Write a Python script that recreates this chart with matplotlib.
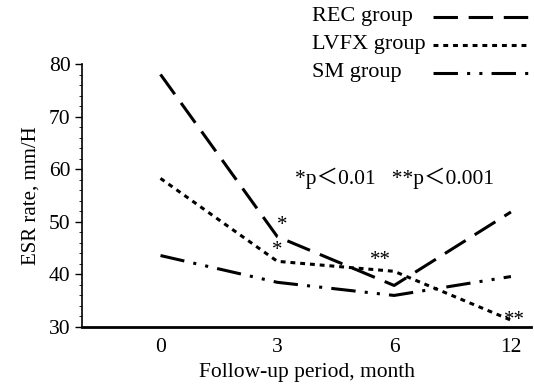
import matplotlib.pyplot as plt
from matplotlib.lines import Line2D
from matplotlib.ticker import MultipleLocator

months = ['0', '3', '6', '12']
groups = ['REC group', 'LVFX group', 'SM group']
rec = [78.1, 47.2, 37.9, 51.9]
lvfx = [58.3, 42.5, 40.6, 31.3]
sm = [43.6, 38.5, 36.0, 39.6]

plt.rcParams['font.family'] = ['Liberation Serif', 'Noto Sans CJK JP']

fig = plt.figure(figsize=(5.34, 3.86), dpi=100)
ax = fig.add_axes([0.154, 0.153, 0.84, 0.68])

styles = [(0, (8, 3.5)), (0, (1.6, 1.6)), (0, (8, 3, 1, 3, 1, 3))]
x = range(len(months))
for vals, ls in zip([rec, lvfx, sm], styles):
    ax.plot(x, vals, color='black', lw=2.2, ls=ls)

# significance marks
ax.text(1.04, rec[1] + 0.4, '*', fontsize=15, ha='center', va='bottom')
ax.text(1.0, lvfx[1] + 0.3, '*', fontsize=15, ha='center', va='bottom')
ax.text(1.88, lvfx[2] + 0.3, '**', fontsize=15, ha='center', va='bottom')
ax.text(3.03, lvfx[3] - 1.9, '**', fontsize=15, ha='center', va='bottom')
ax.text(1.15, 58.3, '*p\uff1c0.01   **p\uff1c0.001', fontsize=15.5, va='center')

ax.set_xlim(-0.67, 3.17)
ax.set_ylim(30, 80)
ax.set_xticks(list(x))
ax.set_xticklabels(months)
ax.yaxis.set_major_locator(MultipleLocator(10))
ax.yaxis.set_minor_locator(MultipleLocator(2))
ax.tick_params(axis='x', length=0, labelsize=15.5, pad=8)
ax.tick_params(axis='y', which='major', length=5, width=1, labelsize=15.5, direction='out')
ax.tick_params(axis='y', which='minor', length=2, width=0.6, direction='out')
for s in ['top', 'right']:
    ax.spines[s].set_visible(False)
ax.spines['left'].set_linewidth(1.2)
ax.spines['bottom'].set_linewidth(2)

ax.set_xlabel('Follow-up period, month', fontsize=15.5, labelpad=4)
ax.set_ylabel('ESR rate, mm/H', fontsize=15, labelpad=6)

# legend drawn by hand: text left-aligned, line sample on the right
for i, (name, ls) in enumerate(zip(groups, styles)):
    yy = 0.956 - i * 0.072
    fig.text(0.584, yy, name, fontsize=16, va='center', ha='left')
    fig.add_artist(Line2D([0.81, 0.99], [yy, yy], transform=fig.transFigure,
                          color='black', lw=2.2, ls=ls))

fig.savefig('out.png', dpi=100)
